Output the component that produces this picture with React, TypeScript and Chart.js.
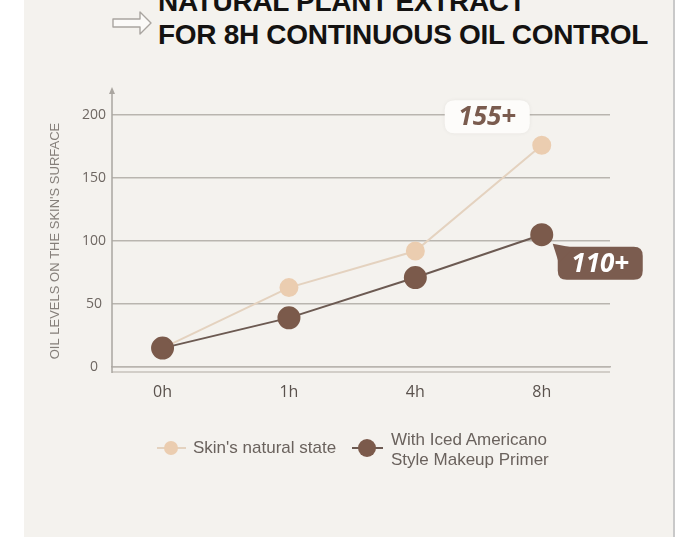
import React, { useEffect, useRef } from "react";
import { Chart, registerables } from "chart.js";

Chart.register(...registerables);

const categories = ["0h", "1h", "4h", "8h"];
const naturalValues = [15, 63, 92, 176];
const primerValues = [15, 39, 71, 105];
const yTicks = [0, 50, 100, 150, 200];
const naturalName = "Skin's natural state";
const primerNameLines = ["With Iced Americano", "Style Makeup Primer"];
const naturalBadge = "155+";
const primerBadge = "110+";
const titleLines = ["NATURAL PLANT EXTRACT", "FOR 8H CONTINUOUS OIL CONTROL"];
const yTitle = "OIL LEVELS ON THE SKIN'S SURFACE";

const LIGHT_POINT = "#ebcdb0";
const LIGHT_LINE = "#e4d2bf";
const DARK_POINT = "#7b5a4b";
const DARK_LINE = "#6c5a52";
const GRID = "#b9b5af";
const TEXT = "#6a625d";

function roundRect(ctx: CanvasRenderingContext2D, x: number, y: number, w: number, h: number, r: number) {
  ctx.beginPath();
  ctx.moveTo(x + r, y);
  ctx.lineTo(x + w - r, y);
  ctx.quadraticCurveTo(x + w, y, x + w, y + r);
  ctx.lineTo(x + w, y + h - r);
  ctx.quadraticCurveTo(x + w, y + h, x + w - r, y + h);
  ctx.lineTo(x + r, y + h);
  ctx.quadraticCurveTo(x, y + h, x, y + h - r);
  ctx.lineTo(x, y + r);
  ctx.quadraticCurveTo(x, y, x + r, y);
  ctx.closePath();
}

const decorPlugin = {
  id: "decor",
  beforeDatasetsDraw(chart: any) {
    const ctx = chart.ctx as CanvasRenderingContext2D;
    const area = chart.chartArea;
    const ys = chart.scales.y;
    ctx.save();
    ctx.strokeStyle = "#d2cec8";
    ctx.lineWidth = 2;
    ctx.beginPath();
    ctx.moveTo(area.left, area.bottom + 5);
    ctx.lineTo(area.right, area.bottom + 5);
    ctx.stroke();
    const x = area.left;
    const top = ys.getPixelForValue(200) - 24;
    ctx.strokeStyle = "#aaa6a0";
    ctx.lineWidth = 1.5;
    ctx.beginPath();
    ctx.moveTo(x, area.bottom + 6);
    ctx.lineTo(x, top);
    ctx.stroke();
    ctx.fillStyle = "#aaa6a0";
    ctx.beginPath();
    ctx.moveTo(x, top - 4);
    ctx.lineTo(x - 3, top + 3);
    ctx.lineTo(x + 3, top + 3);
    ctx.closePath();
    ctx.fill();
    ctx.restore();
  },
  afterDatasetsDraw(chart: any) {
    const ctx = chart.ctx as CanvasRenderingContext2D;
    const m0 = chart.getDatasetMeta(0);
    const m1 = chart.getDatasetMeta(1);
    const p0 = m0.data[m0.data.length - 1];
    const p1 = m1.data[m1.data.length - 1];
    ctx.save();
    const bx = p0.x - 97, by = p0.y - 45, bw = 85, bh = 33;
    ctx.shadowColor = "rgba(0,0,0,0.06)";
    ctx.shadowBlur = 4;
    ctx.fillStyle = "#fdfcfa";
    roundRect(ctx, bx, by, bw, bh, 10);
    ctx.fill();
    ctx.shadowBlur = 0;
    ctx.shadowColor = "transparent";
    ctx.fillStyle = "#7a5b4e";
    ctx.font = "italic bold 26px 'Open Sans', 'Liberation Sans', sans-serif";
    ctx.textAlign = "center";
    ctx.textBaseline = "middle";
    ctx.fillText(naturalBadge, bx + bw / 2, by + bh / 2 + 1);
    const cx = p1.x + 16, cy = p1.y + 12, cw = 85, ch = 33;
    ctx.fillStyle = "#7b5c4f";
    roundRect(ctx, cx, cy, cw, ch, 9);
    ctx.fill();
    ctx.beginPath();
    ctx.moveTo(cx - 5, cy - 3);
    ctx.lineTo(cx + 16, cy + 1);
    ctx.lineTo(cx + 1, cy + 16);
    ctx.closePath();
    ctx.fill();
    ctx.fillStyle = "#ffffff";
    ctx.fillText(primerBadge, cx + cw / 2, cy + ch / 2 + 1);
    ctx.restore();
  },
};

export default function App() {
  const ref = useRef<HTMLCanvasElement | null>(null);

  useEffect(() => {
    if (!ref.current) return;
    const chart = new Chart(ref.current, {
      type: "line",
      data: {
        datasets: [
          {
            label: naturalName,
            data: naturalValues.map((v, i) => ({ x: i, y: v })),
            borderColor: LIGHT_LINE,
            backgroundColor: LIGHT_POINT,
            pointBackgroundColor: LIGHT_POINT,
            pointBorderColor: LIGHT_POINT,
            pointRadius: 8.5,
            borderWidth: 2,
            order: 2,
          },
          {
            label: primerNameLines.join(" "),
            data: primerValues.map((v, i) => ({ x: i, y: v })),
            borderColor: DARK_LINE,
            backgroundColor: DARK_POINT,
            pointBackgroundColor: DARK_POINT,
            pointBorderColor: DARK_POINT,
            pointRadius: 10.5,
            borderWidth: 2,
            order: 1,
          },
        ],
      },
      options: {
        responsive: false,
        animation: false,
        devicePixelRatio: 1,
        layout: { padding: { top: 115, left: 44, right: 90, bottom: 0 } },
        plugins: { legend: { display: false }, tooltip: { enabled: false } },
        scales: {
          x: {
            type: "linear",
            min: -0.4,
            max: 3.54,
            afterFit: (s: any) => {
              s.height = 170;
            },
            afterBuildTicks: (s: any) => {
              s.ticks = categories.map((_, i) => ({ value: i }));
            },
            ticks: {
              includeBounds: false,
              stepSize: 1,
              padding: 16,
              color: "#5a524d",
              font: { family: "'Open Sans', sans-serif", size: 16 },
              callback: (v: any) => categories[v] ?? "",
            },
            grid: { display: false, drawTicks: false },
            border: { display: true, color: GRID, width: 1.5 },
          },
          y: {
            min: 0,
            max: 200,
            afterFit: (s: any) => {
              s.width = 68;
            },
            afterBuildTicks: (s: any) => {
              s.ticks = yTicks.map((v) => ({ value: v }));
            },
            ticks: {
              crossAlign: "center",
              padding: 6,
              color: "#6e6762",
              font: { family: "'Open Sans', sans-serif", size: 14 },
            },
            grid: { color: GRID, lineWidth: 1.5, drawTicks: false },
            border: { display: false },
            title: {
              display: true,
              text: yTitle,
              color: "#857f7a",
              font: { family: "'Liberation Sans', Arial, sans-serif", size: 13 },
              padding: { top: 4, bottom: 0 },
            },
          },
        },
      },
      plugins: [decorPlugin],
    } as any);
    return () => chart.destroy();
  }, []);

  return (
    <div style={{ position: "fixed", left: 0, top: 0, width: 700, height: 537, background: "#ffffff", overflow: "hidden" }}>
      <div style={{ position: "absolute", left: 24, top: 0, width: 649, height: 537, background: "#f4f2ee", borderRight: "2px solid #c9c9c9" }} />
      <svg style={{ position: "absolute", left: 110, top: 6 }} width="46" height="34" viewBox="0 0 46 34">
        <path d="M3 13 L30 13 L30 6 L41 17 L30 28 L30 21 L3 21 Z" fill="#fbfaf8" stroke="#a9a5a0" strokeWidth="1.4" strokeLinejoin="round" />
      </svg>
      <div
        style={{
          position: "absolute",
          left: 158,
          top: -15,
          fontFamily: "'Liberation Sans', Arial, sans-serif",
          fontWeight: 700,
          fontSize: 28,
          lineHeight: "33px",
          letterSpacing: -0.3,
          color: "#141211",
          whiteSpace: "nowrap",
        }}
      >
        {titleLines.map((t) => (
          <div key={t}>{t}</div>
        ))}
      </div>
      <canvas ref={ref} width={700} height={537} style={{ position: "absolute", left: 0, top: 0, width: 700, height: 537 }} />
      <div style={{ position: "absolute", left: 0, top: 0, width: 700, height: 537, fontFamily: "'Liberation Sans', Arial, sans-serif", fontSize: 17, color: TEXT }}>
        <div style={{ position: "absolute", left: 157, top: 447, width: 29, height: 2, background: LIGHT_LINE }} />
        <div style={{ position: "absolute", left: 164, top: 440.5, width: 14, height: 14, borderRadius: "50%", background: LIGHT_POINT }} />
        <div style={{ position: "absolute", left: 193, top: 437, lineHeight: "21px", whiteSpace: "nowrap" }}>{naturalName}</div>
        <div style={{ position: "absolute", left: 352, top: 447, width: 31, height: 2, background: DARK_LINE }} />
        <div style={{ position: "absolute", left: 358, top: 439, width: 18, height: 18, borderRadius: "50%", background: DARK_POINT }} />
        <div style={{ position: "absolute", left: 391, top: 430, lineHeight: "20px", whiteSpace: "nowrap" }}>
          {primerNameLines.map((t) => (
            <div key={t}>{t}</div>
          ))}
        </div>
      </div>
    </div>
  );
}
